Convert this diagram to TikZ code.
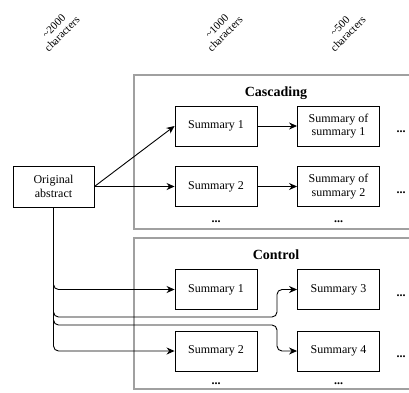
\documentclass[tikz,border=0pt]{standalone}
\usepackage{fontspec}
\setmainfont{Liberation Serif}
\usepackage{tikz}
\usetikzlibrary{positioning,calc,arrows.meta}
\definecolor{framegray}{RGB}{160,160,160}
\tikzset{
  sumbox/.style={draw, fill=white, line width=0.9pt, minimum width=82pt, minimum height=40pt, inner sep=1pt, align=center, font=\fontsize{12}{13.5}\selectfont},
  grpframe/.style={draw=framegray, line width=1.8pt},
  grptitle/.style={font=\bfseries\fontsize{14}{16}\selectfont},
  arr/.style={-{Stealth[length=8pt,width=7pt]}, line width=0.9pt, rounded corners=5pt},
  moredots/.style={inner sep=0pt, font=\bfseries\fontsize{12}{13.5}\selectfont},
  charlabel/.style={rotate=45, align=center, font=\fontsize{11}{11.5}\selectfont}
}

\begin{document}
\begin{tikzpicture}[x=1pt,y=-1pt]
        \useasboundingbox (0,0) rectangle (409,392);
        % length labels
        \node[charlabel] (len1) at (58,30) {\textasciitilde2000\\characters};
        \node[charlabel] (len2) at (221,30) {\textasciitilde1000\\characters};
        \node[charlabel] (len3) at (344,30) {\textasciitilde500\\characters};
        % group frames
        \draw[grpframe] (134,75) rectangle (418,229);
        \draw[grpframe] (134,238) rectangle (418,389);
        \node[grptitle] (casc) at (276,93) {Cascading};
        \node[grptitle] (ctrl) at (276,255) {Control};
        % boxes
        \node[sumbox, minimum width=81pt, minimum height=41pt] (orig) at (53.5,186.5) {Original\\abstract};
        \node[sumbox] (cs1) at (216,126) {Summary 1};
        \node[sumbox] (css1) at (338.5,126) {Summary of\\summary 1};
        \node[sumbox] (cs2) at (216,186.5) {Summary 2};
        \node[sumbox] (css2) at (338.5,186.5) {Summary of\\summary 2};
        \node[sumbox] (k1) at (216,289.5) {Summary 1};
        \node[sumbox] (k3) at (338.5,289.5) {Summary 3};
        \node[sumbox] (k2) at (216,351) {Summary 2};
        \node[sumbox] (k4) at (338.5,351) {Summary 4};
        % dots
        \node[moredots] (d1) at (401,132) {...};
        \node[moredots] (d2) at (401,192.5) {...};
        \node[moredots] (d3) at (401,295.5) {...};
        \node[moredots] (d4) at (401,357) {...};
        \node[moredots] (d5) at (216,222) {...};
        \node[moredots] (d6) at (338.5,222) {...};
        \node[moredots] (d7) at (216,384) {...};
        \node[moredots] (d8) at (338.5,384) {...};
        % cascading arrows
        \draw[arr] (orig.east) -- (cs1.west);
        \draw[arr] (orig.east) -- (cs2.west);
        \draw[arr] (cs1) -- (css1);
        \draw[arr] (cs2) -- (css2);
        % control arrows
        \coordinate (via3) at (277,317);
        \coordinate (via4) at (277,325);
        \draw[arr] (orig.south) |- (k1.west);
        \draw[arr] (orig.south) |- (k2.west);
        \draw[arr] (orig.south) |- (via3) |- (k3.west);
        \draw[arr] (orig.south) |- (via4) |- (k4.west);
    \end{tikzpicture}
\end{document}
